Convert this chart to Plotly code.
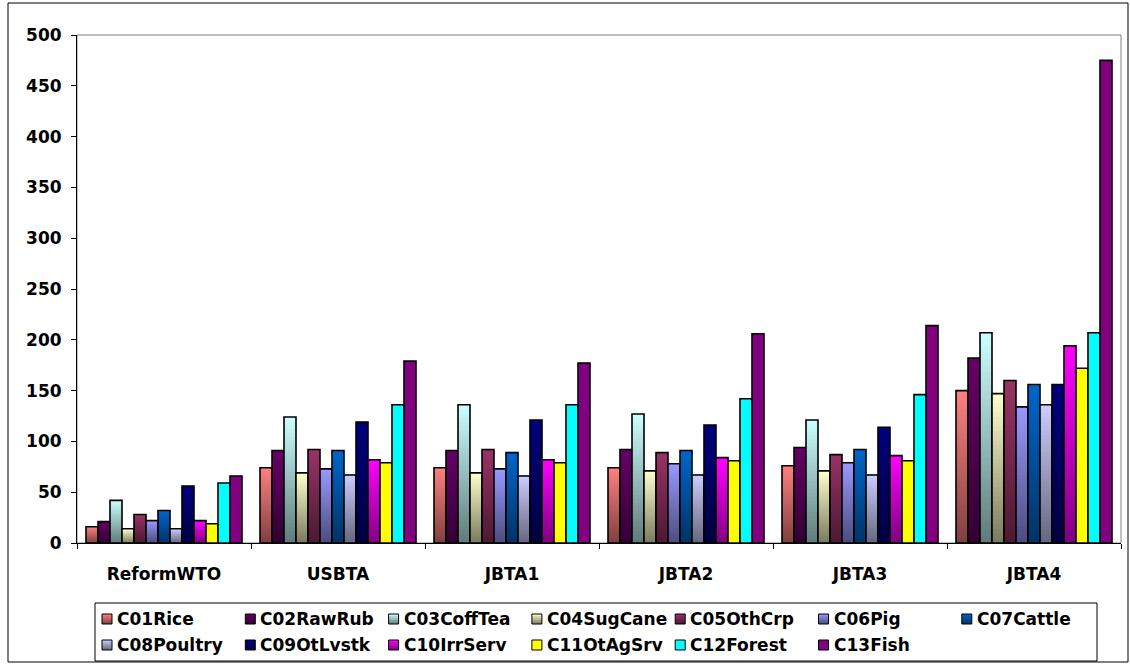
import plotly.graph_objects as go

# Scenario categories on the x axis
categories = ["ReformWTO", "USBTA", "JBTA1", "JBTA2", "JBTA3", "JBTA4"]

# Sector results, one list per sector (same order as categories)
C01Rice = [16, 74, 74, 74, 76, 150]
C02RawRub = [21, 91, 91, 92, 94, 182]
C03CoffTea = [42, 124, 136, 127, 121, 207]
C04SugCane = [14, 69, 69, 71, 71, 147]
C05OthCrp = [28, 92, 92, 89, 87, 160]
C06Pig = [22, 73, 73, 78, 79, 134]
C07Cattle = [32, 91, 89, 91, 92, 156]
C08Poultry = [14, 67, 66, 67, 67, 136]
C09OtLvstk = [56, 119, 121, 116, 114, 156]
C10IrrServ = [22, 82, 82, 84, 86, 194]
C11OtAgSrv = [19, 79, 79, 81, 81, 172]
C12Forest = [59, 136, 136, 142, 146, 207]
C13Fish = [66, 179, 177, 206, 214, 475]

series_names = ["C01Rice", "C02RawRub", "C03CoffTea", "C04SugCane", "C05OthCrp",
                "C06Pig", "C07Cattle", "C08Poultry", "C09OtLvstk", "C10IrrServ",
                "C11OtAgSrv", "C12Forest", "C13Fish"]
series_values = [C01Rice, C02RawRub, C03CoffTea, C04SugCane, C05OthCrp, C06Pig,
                 C07Cattle, C08Poultry, C09OtLvstk, C10IrrServ, C11OtAgSrv,
                 C12Forest, C13Fish]

# Fill of each sector: (colour at the top of a bar, colour at its base)
fills = {
    "C01Rice": ("#FF8080", "#7F4040"),
    "C02RawRub": ("#660066", "#330033"),
    "C03CoffTea": ("#CCFFFF", "#5F7A7A"),
    "C04SugCane": ("#FFFFCC", "#7A7A5F"),
    "C05OthCrp": ("#993366", "#4C1933"),
    "C06Pig": ("#9999FF", "#4C4C7F"),
    "C07Cattle": ("#0066CC", "#003366"),
    "C08Poultry": ("#CCCCFF", "#66667F"),
    "C09OtLvstk": ("#000080", "#000040"),
    "C10IrrServ": ("#FF00FF", "#800080"),
    "C11OtAgSrv": ("#FFFF00", "#FFFF00"),
    "C12Forest": ("#00FFFF", "#00FFFF"),
    "C13Fish": ("#800080", "#800080"),
}

W, H = 1130, 664
ML, MR, MT, MB = 77, 9, 35, 121
PW, PH = W - ML - MR, H - MT - MB
FONT = "DejaVu Sans"
N_STEPS = 32


def px_x(px):
    return (px - ML) / PW


def px_y(py):
    return (H - MB - py) / PH


def hex_rgb(h):
    h = h.lstrip("#")
    return tuple(int(h[i:i + 2], 16) for i in (0, 2, 4))


def blend(c_top, c_bot, f):
    a, b = hex_rgb(c_top), hex_rgb(c_bot)
    return "rgb(%d,%d,%d)" % tuple(round(b[i] + (a[i] - b[i]) * f) for i in range(3))


fig = go.Figure()

for name, vals in zip(series_names, series_values):
    top, bot = fills[name]
    if top != bot:
        # vertical shading: each band runs from its start up to the bar top
        for k in range(N_STEPS):
            f0 = k / N_STEPS
            fig.add_trace(go.Bar(
                x=categories,
                y=[v * (1 - f0) for v in vals],
                base=[v * f0 for v in vals],
                offsetgroup=name, showlegend=False,
                marker=dict(color=blend(top, bot, (k + 0.5) / N_STEPS), line=dict(width=0)),
                hoverinfo="skip",
            ))
        fill = "rgba(0,0,0,0)"
    else:
        fill = top
    # the bar itself, outlined
    fig.add_trace(go.Bar(
        x=categories, y=vals, offsetgroup=name, name=name, showlegend=False,
        marker=dict(color=fill, line=dict(color="black", width=1.6)),
        hovertemplate="%{x}<br>" + name + ": %{y}<extra></extra>",
    ))

# legend box: two rows of equal-width columns
LEG_L, LEG_R, LEG_T, LEG_B = 95, 1097, 603, 661
first_square_px = 102
col_step_px = 143.3
row_px = [619, 645]
SW = 10
TEXT_GAP = 3
legend_font = dict(family=FONT, size=17, color="black", weight="bold")
shapes = [
    # plot area frame
    dict(type="rect", xref="paper", yref="paper", x0=0, x1=1, y0=0, y1=1,
         line=dict(color="#808080", width=1), layer="below"),
    # legend frame
    dict(type="rect", xref="paper", yref="paper",
         x0=px_x(LEG_L), x1=px_x(LEG_R), y0=px_y(LEG_B), y1=px_y(LEG_T),
         line=dict(color="black", width=1), fillcolor="rgba(0,0,0,0)"),
    # chart frame
    dict(type="rect", xref="paper", yref="paper",
         x0=px_x(8), x1=px_x(1128), y0=px_y(662), y1=px_y(3),
         line=dict(color="black", width=1), fillcolor="rgba(0,0,0,0)"),
]
annotations = []
for i, name in enumerate(series_names):
    row, col = divmod(i, 7)
    top, bot = fills[name]
    sx, cy = first_square_px + col * col_step_px, row_px[row]
    y_top = cy - SW / 2
    steps = 5
    for k in range(steps):
        shapes.append(dict(
            type="rect", xref="paper", yref="paper",
            x0=px_x(sx), x1=px_x(sx + SW),
            y0=px_y(y_top + SW * (k + 1) / steps), y1=px_y(y_top + SW * k / steps),
            line=dict(width=0), fillcolor=blend(top, bot, 1 - (k + 0.5) / steps),
        ))
    shapes.append(dict(
        type="rect", xref="paper", yref="paper",
        x0=px_x(sx), x1=px_x(sx + SW), y0=px_y(y_top + SW), y1=px_y(y_top),
        line=dict(color="black", width=1), fillcolor="rgba(0,0,0,0)",
    ))
    annotations.append(dict(
        text=name, xref="paper", yref="paper", x=px_x(sx + SW + TEXT_GAP), y=px_y(cy),
        xanchor="left", yanchor="middle", showarrow=False, font=legend_font,
    ))

tick_font = dict(family=FONT, size=17, color="black", weight="bold")

fig.update_layout(
    width=W, height=H,
    margin=dict(l=ML, r=MR, t=MT, b=MB, autoexpand=False),
    template="none",
    paper_bgcolor="white", plot_bgcolor="white",
    barmode="group", bargap=18 / 174, bargroupgap=0,
    font=dict(family=FONT, color="black"),
    showlegend=False,
    xaxis=dict(
        type="category", showline=True, linecolor="black", linewidth=1,
        ticks="outside", tickson="boundaries", ticklen=5, tickcolor="black",
        showgrid=False, zeroline=False, tickfont=tick_font, ticklabelstandoff=16,
    ),
    yaxis=dict(
        range=[0, 500], dtick=50, tick0=0, showline=True, linecolor="black",
        linewidth=1, ticks="outside", ticklen=5, tickcolor="black",
        showgrid=False, zeroline=False, tickfont=tick_font, ticklabelstandoff=6,
    ),
    shapes=shapes,
    annotations=annotations,
)

fig.write_html("out.html")
